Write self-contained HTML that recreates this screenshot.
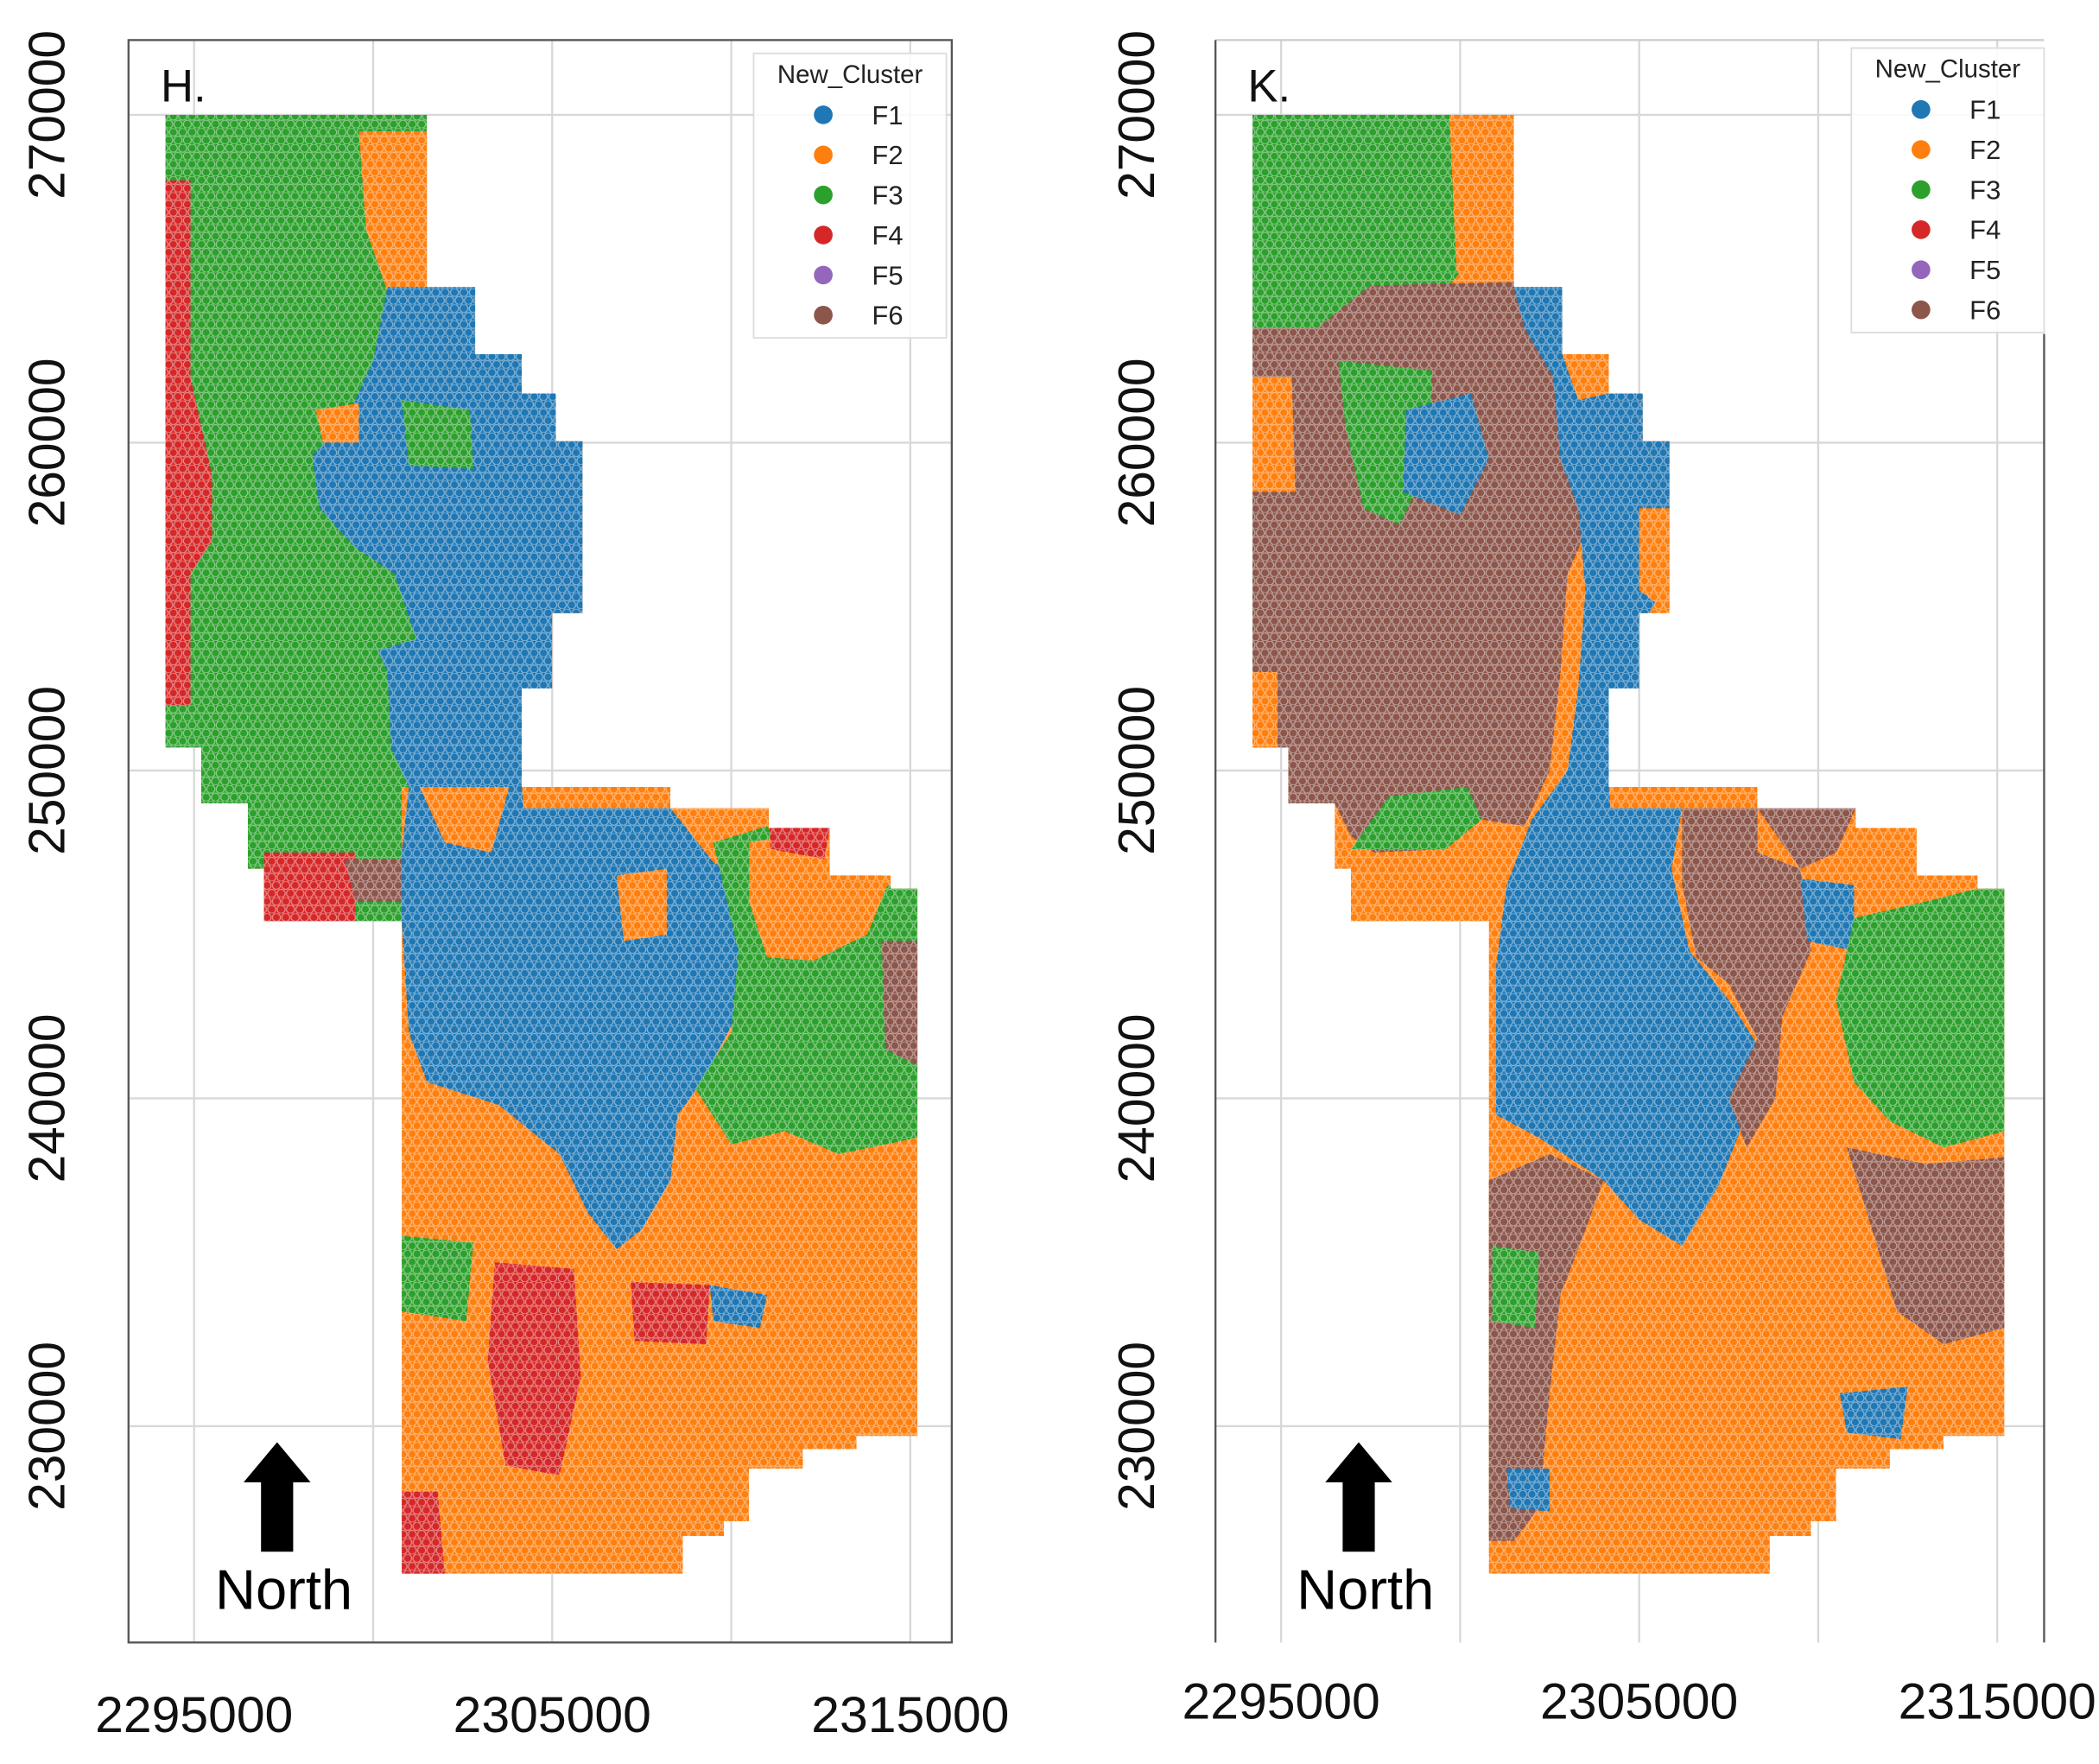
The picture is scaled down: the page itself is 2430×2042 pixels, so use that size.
<!DOCTYPE html>
<html><head><meta charset="utf-8"><style>
html,body{margin:0;padding:0;background:#fff;}
svg{display:block;font-family:"Liberation Sans",sans-serif;}
</style></head><body>
<svg id="fig" width="2430" height="2042" viewBox="0 0 1568 1321" preserveAspectRatio="none" xmlns="http://www.w3.org/2000/svg">
<defs>
<pattern id="dots" patternUnits="userSpaceOnUse" width="7" height="12">
<circle cx="3.5" cy="3" r="3" fill="none" stroke="#fff" stroke-opacity="0.45" stroke-width="0.8"/>
<circle cx="0" cy="9" r="3" fill="none" stroke="#fff" stroke-opacity="0.45" stroke-width="0.8"/>
<circle cx="7" cy="9" r="3" fill="none" stroke="#fff" stroke-opacity="0.45" stroke-width="0.8"/>
</pattern>
</defs>
</svg>
<script>
const NS="http://www.w3.org/2000/svg";
const xTicks=[2295000,2305000,2315000];
const yTicks=[230000,240000,250000,260000,270000];
const gridX=[2295000,2300000,2305000,2310000,2315000];
const gridY=[230000,240000,250000,260000,270000];
const clusters=["F1","F2","F3","F4","F5","F6"];
const clusterColors=["#1f77b4","#ff7f0e","#2ca02c","#d62728","#9467bd","#8c564b"];
// study area outline in km (x = easting/1000, y = northing/1000)
const outline=[[2294.2,270],[2301.5,270],[2301.5,264.75],[2302.85,264.75],[2302.85,262.7],[2304.15,262.7],[2304.15,261.5],[2305.1,261.5],[2305.1,260.05],[2305.85,260.05],[2305.85,254.8],[2305,254.8],[2305,252.5],[2304.15,252.5],[2304.15,249.5],[2308.3,249.5],[2308.3,248.85],[2311.05,248.85],[2311.05,248.25],[2312.75,248.25],[2312.75,246.8],[2314.45,246.8],[2314.45,246.4],[2315.2,246.4],[2315.2,229.7],[2313.5,229.7],[2313.5,229.3],[2312,229.3],[2312,228.7],[2310.5,228.7],[2310.5,227.1],[2309.8,227.1],[2309.8,226.65],[2308.65,226.65],[2308.65,225.5],[2300.8,225.5],[2300.8,245.4],[2296.95,245.4],[2296.95,247],[2296.5,247],[2296.5,249],[2295.2,249],[2295.2,250.7],[2294.2,250.7]];
// H panel cluster zones: [clusterIndex, polygon]
const zonesH=[
[2,[[2294.2,270],[2301.5,270],[2301.5,264.75],[2302.85,264.75],[2302.85,262.7],[2304.15,262.7],[2304.15,249.5],[2300.8,249.5],[2300.8,245.4],[2296.95,245.4],[2296.95,247],[2296.5,247],[2296.5,249],[2295.2,249],[2295.2,250.7],[2294.2,250.7]]],
[1,[[2299.6,269.5],[2301.5,269.5],[2301.5,264.75],[2300.4,264.6],[2299.8,266.5]]],
[0,[[2300.4,264.75],[2302.85,264.75],[2302.85,262.7],[2304.15,262.7],[2304.15,261.5],[2305.1,261.5],[2305.1,260.05],[2305.85,260.05],[2305.85,254.8],[2305,254.8],[2305,252.5],[2304.15,252.5],[2304.15,249.5],[2301.2,249.0],[2300.5,250.7],[2300.4,253.0],[2299.8,254.5],[2300.6,256],[2299.5,256.8],[2298.5,258],[2298.3,259.6],[2299.3,260.8],[2300,262.5]]],
[2,[[2300.8,261.3],[2302.7,261],[2302.8,259.2],[2301,259.3]]],
[2,[[2299.2,255.8],[2300.6,256],[2301.2,254],[2299.6,253.5]]],
[1,[[2298.4,261],[2299.6,261.2],[2299.6,260],[2298.6,260.0]]],
[3,[[2294.2,268],[2294.9,268],[2294.9,262],[2295.5,259],[2295.5,257],[2294.9,256],[2294.9,252],[2294.2,252]]],
[3,[[2296.95,247.5],[2299.5,247.5],[2299.5,245.4],[2296.95,245.4]]],
[5,[[2299.2,247.3],[2300.8,247.3],[2300.8,246],[2299.5,246]]],
[0,[[2301,249.5],[2304.15,249.5],[2304.2,248.85],[2308.3,248.85],[2309.5,247.2],[2310.7,246.5],[2310.8,244],[2309.9,242],[2309.2,240.5],[2308.5,239.5],[2308.3,237.5],[2307.5,236],[2306.8,235.4],[2306,236.5],[2305.2,238.3],[2303.5,239.8],[2301.5,240.5],[2301,242],[2300.8,245.4],[2300.8,247.5]]],
[1,[[2301.3,249.5],[2303.8,249.5],[2303.3,247.5],[2302,247.8]]],
[1,[[2306.8,246.8],[2308.2,247],[2308.2,245],[2307,244.8]]],
[2,[[2309.5,247.8],[2311,248.3],[2312.5,246],[2314.45,246.5],[2315.2,246.4],[2315.2,238.8],[2313,238.3],[2311.5,239],[2310,238.6],[2309,240.3],[2310,242],[2310.2,244.5]]],
[1,[[2310.5,247.8],[2312.8,248.25],[2314.4,246.6],[2313.8,245],[2312.3,244.2],[2311,244.3],[2310.5,246]]],
[3,[[2311.05,248.85],[2312.75,248.25],[2312.6,247.3],[2311.1,247.6]]],
[5,[[2314.2,244.8],[2315.2,244.8],[2315.2,241],[2314.3,241.5]]],
[3,[[2303.4,235],[2305.6,234.8],[2305.8,231.5],[2305.2,228.5],[2303.7,228.8],[2303.2,232]]],
[3,[[2307.2,234.4],[2309.4,234.3],[2309.3,232.5],[2307.3,232.6]]],
[3,[[2300.8,228],[2301.8,228],[2302,225.5],[2300.8,225.5]]],
[2,[[2300.8,235.8],[2302.8,235.6],[2302.6,233.2],[2300.8,233.5]]],
[0,[[2309.4,234.3],[2311,234],[2310.8,233],[2309.5,233.2]]]
];
// K panel cluster zones
const zonesK=[
[2,[[2294.2,270],[2299.8,270],[2300.2,265.5],[2299.5,264.5],[2297.5,264.5],[2296,263.5],[2294.2,263]]],
[1,[[2299.7,270],[2301.5,270],[2301.5,265],[2299.9,265.2]]],
[5,[[2294.2,263.5],[2296,263.5],[2297.5,264.8],[2301.5,264.9],[2302.85,264.75],[2302.9,262.5],[2303.2,260],[2303.8,258],[2303.0,256],[2302.8,253],[2302.5,250],[2301.8,248.3],[2300.6,248.5],[2299.6,247.6],[2297.6,247.5],[2296.95,248],[2296.5,249],[2295.2,249],[2295.2,250.7],[2294.2,250.7]]],
[1,[[2294.2,262],[2295.3,262],[2295.4,258.5],[2294.2,258.5]]],
[1,[[2294.2,253],[2294.9,253],[2294.9,250.7],[2294.2,250.7]]],
[2,[[2296.6,262.5],[2299.2,262.2],[2299.2,259.5],[2298.3,257.5],[2297.3,258],[2296.8,260.5]]],
[2,[[2296.95,247.6],[2299.6,247.6],[2300.6,248.5],[2300.2,249.5],[2298,249.2]]],
[0,[[2301.5,264.75],[2302.85,264.75],[2302.85,262.7],[2304.15,262.7],[2304.15,261.5],[2305.1,261.5],[2305.1,260.05],[2305.85,260.05],[2305.85,258],[2305.3,257],[2305.85,256],[2305.3,254.8],[2305,254.8],[2305,252.5],[2304.15,252.5],[2304.15,249.5],[2304.2,248.85],[2306.2,248.85],[2305.9,247],[2306.4,244.5],[2307.5,243],[2308.5,241.3],[2308,239.5],[2307.2,237.3],[2306.2,235.5],[2305,236.3],[2304,237.5],[2302.2,238.8],[2301,239.5],[2301,244],[2301.3,246.5],[2302,248.5],[2303,250],[2303.3,252.5],[2303.5,255.5],[2303.3,258],[2302.8,259.5],[2302.6,262],[2301.8,263.5]]],
[0,[[2298.5,261],[2300.3,261.5],[2300.8,259.5],[2300,257.8],[2298.4,258.5]]],
[1,[[2305,258],[2305.85,258],[2305.85,254.8],[2305,255.5]]],
[1,[[2302.85,262.7],[2304.15,262.7],[2304.15,261.5],[2303.3,261.3]]],
[5,[[2306.2,248.85],[2308.3,248.85],[2308.3,247.5],[2309.5,247],[2309.8,244.5],[2309,242.5],[2308.8,240],[2308,238.5],[2307.5,240],[2308.3,241.8],[2307.5,243.5],[2306.6,244.3],[2306.2,246.5]]],
[5,[[2308.3,248.85],[2311.05,248.85],[2310.5,247.5],[2309.5,247]]],
[0,[[2309.5,246.7],[2311,246.5],[2311,244.5],[2309.7,244.8]]],
[2,[[2311,245.5],[2313,246],[2314.45,246.4],[2315.2,246.4],[2315.2,239],[2313.5,238.5],[2312,239.3],[2311,240.5],[2310.5,243]]],
[5,[[2310.8,238.5],[2313,238],[2315.2,238.2],[2315.2,233],[2313.5,232.5],[2312.2,233.5],[2311.5,236]]],
[5,[[2300.8,237.5],[2302.5,238.3],[2304,237.5],[2303.5,236],[2302.8,234],[2302.5,231],[2302.2,227.5],[2301.5,226.5],[2300.8,226.5]]],
[2,[[2300.9,235.5],[2302.2,235.3],[2302.1,233],[2300.9,233.2]]],
[0,[[2301.3,228.7],[2302.5,228.7],[2302.5,227.4],[2301.4,227.5]]],
[0,[[2310.6,231],[2312.5,231.2],[2312.3,229.6],[2310.8,229.8]]]
];
const panels=[
 {id:"h",label:"H.",x0:145,frame:[96,30,711,1230],zones:zonesH,xlabY:1297,ylabX:48,legend:[563,40],arrowX:207},
 {id:"k",label:"K.",x0:957,frame:[908,30,1527,1230],zones:zonesK,xlabY:1287,ylabX:862,legend:[1383,36],arrowX:1015}
];
const svg=document.getElementById('fig');
function mk(tag,attrs,parent){const e=document.createElementNS(NS,tag);for(const k in attrs)e.setAttribute(k,attrs[k]);(parent||svg).appendChild(e);return e;}
panels.forEach(p=>{
 const sx=v=>p.x0+(v-2295000)/10000*267.5;
 const sy=v=>86+(270000-v)/10000*245.5;
 const kx=k=>sx(k*1000), ky=k=>sy(k*1000);
 const pts=poly=>poly.map(q=>kx(q[0]).toFixed(1)+","+ky(q[1]).toFixed(1)).join(" ");
 const g=mk('g',{});
 
 
 const f=p.frame;
 gridX.forEach(v=>{const l=mk('line',{x1:sx(v),x2:sx(v),y1:f[1],y2:f[3],stroke:'#d8d8d8','stroke-width':1.5},g);
  
  });
 gridY.forEach(v=>{const l=mk('line',{x1:f[0],x2:f[2],y1:sy(v),y2:sy(v),stroke:'#d8d8d8','stroke-width':1.5},g);
  
  });
 const cid='clip-'+p.id;
 const cp=mk('clipPath',{id:cid},g);
 mk('polygon',{points:pts(outline)},cp);
 const mg=mk('g',{'clip-path':'url(#'+cid+')'},g);
 
 
 const base=mk('polygon',{points:pts(outline),fill:clusterColors[1]},mg);
 
 
 p.zones.forEach(z=>{const e=mk('polygon',{points:pts(z[1]),fill:clusterColors[z[0]]},mg);
  
  });
 const tex=mk('rect',{x:0,y:0,width:1568,height:1321,fill:'url(#dots)'},mg);
 
 
 if(p.id==='h'){const r=mk('rect',{x:f[0],y:f[1],width:f[2]-f[0],height:f[3]-f[1],fill:'none',stroke:'#555','stroke-width':1.5},g);
  
  }
 else{
  const t=mk('line',{x1:f[0],x2:f[2],y1:f[1],y2:f[1],stroke:'#ccc','stroke-width':1.5},g);
  
  
  const l=mk('line',{x1:f[0],x2:f[0],y1:f[1],y2:f[3],stroke:'#555','stroke-width':1.5},g);
  
  
  const r=mk('line',{x1:f[2],x2:f[2],y1:250,y2:f[3],stroke:'#555','stroke-width':1.5},g);
  
  }
 xTicks.forEach(v=>{const t=mk('text',{x:sx(v),y:p.xlabY,'text-anchor':'middle','font-size':38,fill:'#111'},g);t.textContent=String(v);
  
  });
 yTicks.forEach(v=>{const t=mk('text',{x:0,y:0,'text-anchor':'middle','font-size':38,fill:'#111',transform:'translate('+p.ylabX+','+sy(v)+') rotate(-90)'},g);t.textContent=String(v);
  
  });
 const pl=mk('text',{x:f[0]+24,y:76,'font-size':34,fill:'#111'},g);pl.textContent=p.label;
 
 
 const lg=mk('g',{},g);
 
 
 const [lx,ly]=p.legend;
 mk('rect',{x:lx,y:ly,width:144,height:213,fill:'#fff','fill-opacity':0.85,stroke:'#ddd','stroke-width':1.2},lg);
 const lt=mk('text',{x:lx+72,y:ly+22,'text-anchor':'middle','font-size':19,fill:'#222'},lg);lt.textContent='New_Cluster';
 
 
 clusters.forEach((c,i)=>{const yy=ly+46+i*30;
  const e=mk('g',{},lg);
  
  
  mk('circle',{cx:lx+52,cy:yy,r:7,fill:clusterColors[i]},e);
  const tt=mk('text',{x:lx+100,y:yy+7,'text-anchor':'middle','font-size':20,fill:'#222'},e);tt.textContent=c;});
 const ar=mk('polygon',{points:[[p.arrowX-12,1162],[p.arrowX+12,1162],[p.arrowX+12,1110],[p.arrowX+25,1110],[p.arrowX,1080],[p.arrowX-25,1110],[p.arrowX-12,1110]].map(q=>q.join(',')).join(' '),fill:'#000'},g);
 
 
 const nt=mk('text',{x:p.arrowX+5,y:1205,'text-anchor':'middle','font-size':42,fill:'#000'},g);nt.textContent='North';
 
 
});
</script>
</body></html>
